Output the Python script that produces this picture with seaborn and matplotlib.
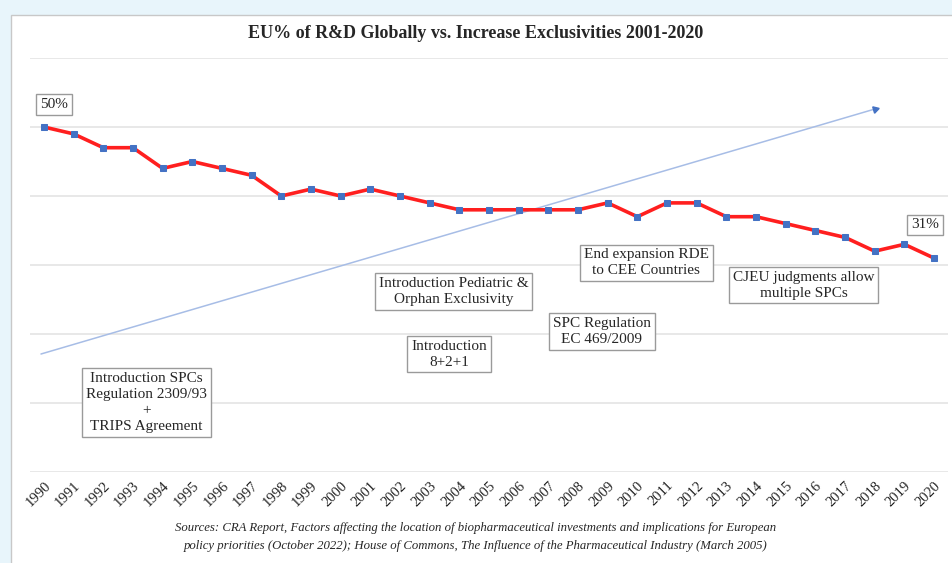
"""
EU share of global R&D vs. increase in exclusivities, 1990-2020
"""

import matplotlib
matplotlib.use("Agg")
import matplotlib.pyplot as plt
from matplotlib.patches import Rectangle
import pandas as pd
import seaborn as sns

# ----------------------------
# DATA
# ----------------------------
years = list(range(1990, 2021))
eu_share = [50, 49, 47, 47, 44, 45, 44, 43, 40, 41, 40, 41, 40, 39, 38,
            38, 38, 38, 38, 39, 37, 39, 39, 37, 37, 36, 35, 34, 32, 33, 31]

# rising exclusivities trend arrow (start / end)
trend_years = [1989.9, 2018.0]
trend_values = [17.1, 52.6]

events = [
    "Introduction SPCs\nRegulation 2309/93\n+\nTRIPS Agreement",
    "Introduction Pediatric &\nOrphan Exclusivity",
    "Introduction\n8+2+1",
    "End expansion RDE\nto CEE Countries",
    "SPC Regulation\nEC 469/2009",
    "CJEU judgments allow\nmultiple SPCs",
]
event_x = [1993.45, 2003.8, 2003.65, 2010.3, 2008.8, 2015.6]
event_y = [10.1, 26.2, 17.1, 30.3, 20.4, 27.1]

title = "EU% of R&D Globally vs. Increase Exclusivities 2001-2020"
source = ("Sources: CRA Report, Factors affecting the location of biopharmaceutical "
          "investments and implications for European\npolicy priorities (October 2022); "
          "House of Commons, The Influence of the Pharmaceutical Industry (March 2005)")

df = pd.DataFrame({"year": years, "share": eu_share})

# ----------------------------
# STYLE
# ----------------------------
sns.set_theme(style="whitegrid")
plt.rcParams["font.family"] = ["Liberation Serif", "DejaVu Serif"]

fig = plt.figure(figsize=(9.52, 5.63), dpi=100)
fig.patch.set_facecolor("#e8f5fb")
# white panel with thin gray border (top/left)
fig.add_artist(Rectangle((11 / 952, -0.01), 1.0, 1 - 15 / 563 + 0.01,
                         transform=fig.transFigure, facecolor="white",
                         edgecolor="#c8c8c8", linewidth=1, zorder=0))

ax = fig.add_axes([30 / 952, 1 - 472 / 563, 918 / 952, 414 / 563])
ax.set_facecolor("none")

# ----------------------------
# PLOT
# ----------------------------
ax.plot(trend_years, trend_values, color="#a7bde6", lw=1.1, zorder=2)
# small arrow head, pointing along the trend line (~16 deg on screen)
ax.plot(trend_years[1], trend_values[1], marker=(3, 0, 16.4 - 90), color="#4472c4",
        markersize=5.5, zorder=3)

sns.lineplot(data=df, x="year", y="share", ax=ax, color="#ff1f1f", linewidth=2.6,
             marker="s", markersize=4.8, markerfacecolor="#4472c4",
             markeredgecolor="#4472c4", zorder=4)

ax.set_xlim(1989.53, 2020.47)
ax.set_ylim(0, 60)
ax.set_yticks(range(0, 61, 10))
ax.set_yticklabels([])
ax.set_xticks(years)
ax.set_xticklabels([str(y) for y in years], rotation=45, ha="right",
                   rotation_mode="anchor", fontsize=10.5, color="#222222")
ax.tick_params(axis="x", pad=5, length=0)
ax.tick_params(axis="y", length=0)
ax.grid(axis="y", color="#e4e4e4", linewidth=1.2)
ax.grid(axis="x", visible=False)
ax.set_xlabel("")
ax.set_ylabel("")
for s in ax.spines.values():
    s.set_visible(False)

box = dict(boxstyle="square,pad=0.25", facecolor="white", edgecolor="#9a9a9a", linewidth=1)
ax.text(1990.34, 53.3, "50%", ha="center", va="center", fontsize=11, bbox=box, zorder=5)
ax.text(2019.7, 35.8, "31%", ha="center", va="center", fontsize=11, bbox=box, zorder=5)
for label, x, y in zip(events, event_x, event_y):
    ax.text(x, y, label, ha="center", va="center", fontsize=11, linespacing=1.3,
            bbox=box, zorder=5)

fig.text(476 / 952, 1 - 33 / 563, title, ha="center", va="center",
         fontsize=13, fontweight="bold")
fig.text(476 / 952, 1 - 537 / 563, source, ha="center", va="center",
         fontsize=9.2, style="italic", linespacing=1.6)

fig.savefig("out.png", dpi=100, facecolor=fig.get_facecolor())
